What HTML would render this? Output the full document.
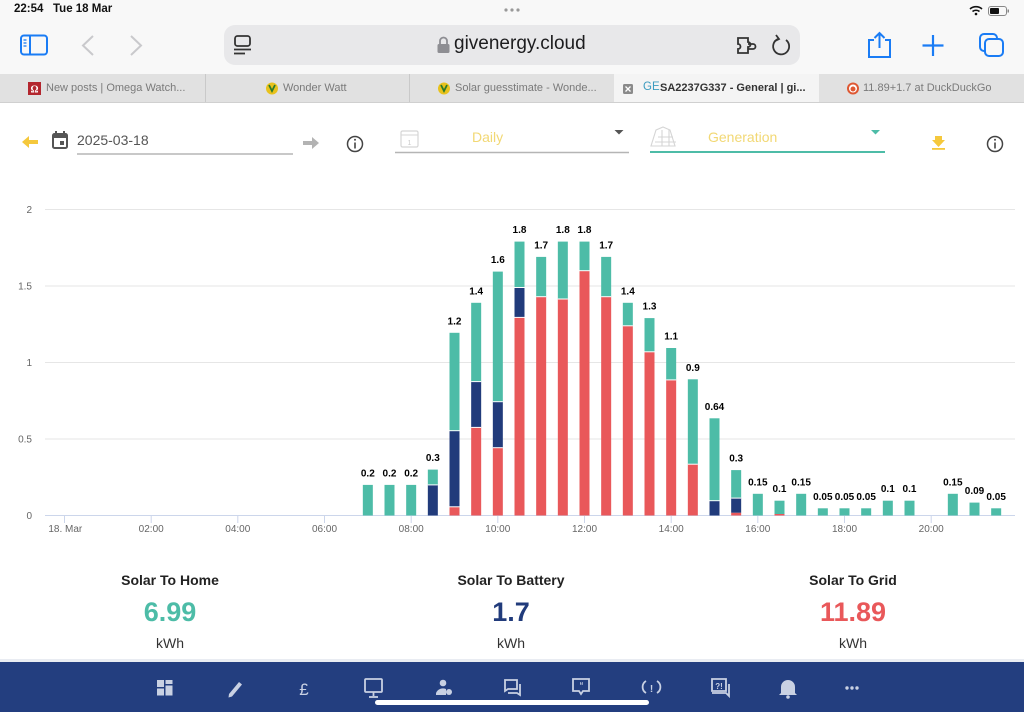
<!DOCTYPE html>
<html><head><meta charset="utf-8">
<style>
html,body{margin:0;padding:0;width:1024px;height:712px;overflow:hidden;background:#fff;font-family:"Liberation Sans",sans-serif;}
.abs{position:absolute;}
</style></head>
<body>
<!-- chrome backgrounds -->
<div class="abs" style="left:0;top:0;width:1024px;height:74px;background:#f8f8f8;"></div>
<div class="abs" style="left:224px;top:25px;width:576px;height:40px;background:#e8e8ea;border-radius:11px;"></div>
<div class="abs" style="left:0;top:74px;width:1024px;height:28px;background:#e1e1e1;border-bottom:1px solid #d0d0d0;"></div>
<div class="abs" style="left:614px;top:74px;width:205px;height:28px;background:#f4f4f4;"></div>
<div class="abs" style="left:205px;top:74px;width:1px;height:28px;background:#c9c9c9;"></div>
<div class="abs" style="left:409px;top:74px;width:1px;height:28px;background:#c9c9c9;"></div>

<!-- status text -->
<div class="abs" style="left:14px;top:3px;font-size:11.5px;font-weight:bold;color:#111;white-space:pre;">22:54   Tue 18 Mar</div>
<div class="abs" style="left:454px;top:33px;font-size:19px;color:#1c1c1e;">givenergy.cloud</div>

<!-- tab texts -->
<div class="abs" style="left:46px;top:82px;font-size:11px;color:#7a7a7a;white-space:nowrap;">New posts | Omega Watch...</div>
<div class="abs" style="left:283px;top:82px;font-size:11px;color:#7a7a7a;white-space:nowrap;">Wonder Watt</div>
<div class="abs" style="left:455px;top:82px;font-size:11px;color:#7a7a7a;white-space:nowrap;">Solar guesstimate - Wonde...</div>
<div class="abs" style="left:643px;top:81px;font-size:11.5px;color:#3b9bbf;white-space:nowrap;">GE</div>
<div class="abs" style="left:660px;top:82px;font-size:11px;font-weight:bold;color:#333;white-space:nowrap;">SA2237G337 - General | gi...</div>
<div class="abs" style="left:863px;top:82px;font-size:11px;color:#7a7a7a;white-space:nowrap;">11.89+1.7 at DuckDuckGo</div>

<!-- controls row texts -->
<div class="abs" style="left:77px;top:132px;font-size:14px;color:#555;">2025-03-18</div>
<div class="abs" style="left:472px;top:129px;font-size:14px;color:#f2d874;">Daily</div>
<div class="abs" style="left:708px;top:129px;font-size:14px;color:#f2d874;">Generation</div>

<!-- stats -->
<div class="abs" style="left:70px;top:572px;width:200px;text-align:center;font-size:14px;font-weight:bold;color:#222;">Solar To Home</div>
<div class="abs" style="left:411px;top:572px;width:200px;text-align:center;font-size:14px;font-weight:bold;color:#222;">Solar To Battery</div>
<div class="abs" style="left:753px;top:572px;width:200px;text-align:center;font-size:14px;font-weight:bold;color:#222;">Solar To Grid</div>
<div class="abs" style="left:70px;top:597px;width:200px;text-align:center;font-size:27px;font-weight:bold;color:#4dbca7;">6.99</div>
<div class="abs" style="left:411px;top:597px;width:200px;text-align:center;font-size:27px;font-weight:bold;color:#213b7b;">1.7</div>
<div class="abs" style="left:753px;top:597px;width:200px;text-align:center;font-size:27px;font-weight:bold;color:#e9585a;">11.89</div>
<div class="abs" style="left:70px;top:635px;width:200px;text-align:center;font-size:14px;color:#333;">kWh</div>
<div class="abs" style="left:411px;top:635px;width:200px;text-align:center;font-size:14px;color:#333;">kWh</div>
<div class="abs" style="left:753px;top:635px;width:200px;text-align:center;font-size:14px;color:#333;">kWh</div>

<!-- bottom nav -->
<div class="abs" style="left:0;top:659px;width:1024px;height:3px;background:#e9ecf2;"></div>
<div class="abs" style="left:0;top:662px;width:1024px;height:50px;background:#233e7f;"></div>

<svg class="abs" style="left:0;top:0;" width="1024" height="712" viewBox="0 0 1024 712" xmlns="http://www.w3.org/2000/svg">
<!-- status dots -->
<circle cx="506" cy="10" r="1.6" fill="#999"/><circle cx="512" cy="10" r="1.6" fill="#999"/><circle cx="518" cy="10" r="1.6" fill="#999"/>
<!-- wifi -->
<path d="M970 9 a9 9 0 0 1 12 0" stroke="#111" stroke-width="1.6" fill="none"/>
<path d="M972.5 11.5 a5.5 5.5 0 0 1 7 0" stroke="#111" stroke-width="1.6" fill="none"/>
<circle cx="976" cy="14" r="1.3" fill="#111"/>
<!-- battery -->
<rect x="988.5" y="6.5" width="18" height="9" rx="2.5" fill="none" stroke="#888" stroke-width="1"/>
<rect x="990" y="8" width="9" height="6" rx="1" fill="#111"/>
<rect x="1007.5" y="9.5" width="1.5" height="3" fill="#888"/>
<!-- sidebar icon -->
<rect x="21" y="35.5" width="26" height="19" rx="3" fill="none" stroke="#1a7cf5" stroke-width="2"/>
<line x1="30" y1="35.5" x2="30" y2="54.5" stroke="#1a7cf5" stroke-width="2"/>
<line x1="23.5" y1="40" x2="26.5" y2="40" stroke="#1a7cf5" stroke-width="1.3"/>
<line x1="23.5" y1="43" x2="26.5" y2="43" stroke="#1a7cf5" stroke-width="1.3"/>
<line x1="23.5" y1="46" x2="26.5" y2="46" stroke="#1a7cf5" stroke-width="1.3"/>
<!-- back/forward -->
<path d="M93 36 L83 45.5 L93 55" stroke="#c9c9cc" stroke-width="2" fill="none"/>
<path d="M131 36 L141 45.5 L131 55" stroke="#c9c9cc" stroke-width="2" fill="none"/>
<!-- reader icon -->
<rect x="235" y="36" width="15" height="10" rx="2.5" fill="none" stroke="#333" stroke-width="1.8"/>
<line x1="234" y1="49.5" x2="251" y2="49.5" stroke="#333" stroke-width="1.8"/>
<line x1="234" y1="53.5" x2="245" y2="53.5" stroke="#333" stroke-width="1.8"/>
<!-- lock -->
<rect x="437.5" y="44" width="12" height="9" rx="1.5" fill="#8e8e93"/>
<path d="M440 44 v-3 a3.5 3.5 0 0 1 7 0 v3" stroke="#8e8e93" stroke-width="1.8" fill="none"/>
<!-- puzzle -->
<path d="M738 38 h10 v4 a2.5 2.5 0 0 1 0 5 v6 h-10 v-4 a2.5 2.5 0 0 0 0 -5 z M748 44 h5 a2.5 2.5 0 0 1 0 5 h-5" stroke="#333" stroke-width="1.8" fill="none"/>
<!-- reload -->
<path d="M786 40 a8 8 0 1 1 -8 -1" stroke="#333" stroke-width="1.8" fill="none"/>
<path d="M776 35 l3 4 l-4 2" stroke="#333" stroke-width="1.8" fill="none"/>
<!-- share -->
<path d="M874 40 h-5 v17 h21 v-17 h-5" stroke="#1a7cf5" stroke-width="2" fill="none"/>
<line x1="879.5" y1="33" x2="879.5" y2="48" stroke="#1a7cf5" stroke-width="2"/>
<path d="M874.5 38 l5 -5 l5 5" stroke="#1a7cf5" stroke-width="2" fill="none"/>
<!-- plus -->
<line x1="933" y1="35" x2="933" y2="56" stroke="#1a7cf5" stroke-width="2.2"/>
<line x1="922.5" y1="45.5" x2="943.5" y2="45.5" stroke="#1a7cf5" stroke-width="2.2"/>
<!-- tabs -->
<rect x="980" y="34" width="17" height="17" rx="4" fill="none" stroke="#1a7cf5" stroke-width="2"/>
<rect x="985" y="39" width="18" height="17" rx="4" fill="#f8f8f8" stroke="#1a7cf5" stroke-width="2"/>
<!-- tab favicons -->
<rect x="28" y="82" width="13" height="13" fill="#b3262e"/>
<text x="34.5" y="92.5" font-size="10" font-weight="bold" fill="#fff" text-anchor="middle" font-family="Liberation Serif, serif">Ω</text>
<circle cx="272" cy="88.5" r="6" fill="#e8c21c"/><path d="M269 85 l3 6 l3 -6" stroke="#2b7a2b" stroke-width="1.8" fill="none"/>
<circle cx="444" cy="88.5" r="6" fill="#e8c21c"/><path d="M441 85 l3 6 l3 -6" stroke="#2b7a2b" stroke-width="1.8" fill="none"/>
<rect x="623" y="84" width="10" height="10" rx="1.5" fill="#8a8a8a"/>
<path d="M625.5 86.5 l5 5 M630.5 86.5 l-5 5" stroke="#fff" stroke-width="1.3"/>
<circle cx="853" cy="88.5" r="6" fill="#de5833"/><circle cx="853" cy="88.5" r="4" fill="#fff"/><circle cx="853" cy="89" r="2.5" fill="#de5833"/>

<!-- controls row icons -->
<path d="M22 142 l7 -6 v4 h9 v4 h-9 v4 z" fill="#f5c83c"/>
<rect x="53" y="134" width="14" height="14" rx="1.5" fill="none" stroke="#555" stroke-width="2"/>
<rect x="53" y="134" width="14" height="4" fill="#555"/>
<line x1="56" y1="131" x2="56" y2="135" stroke="#555" stroke-width="2"/>
<line x1="64" y1="131" x2="64" y2="135" stroke="#555" stroke-width="2"/>
<rect x="60" y="141" width="4" height="4" fill="#555"/>
<line x1="77" y1="154" x2="293" y2="154" stroke="#b5b5b5" stroke-width="1.5"/>
<path d="M319 143 l-7 -6 v4 h-9 v4 h9 v4 z" fill="#b3b3b3"/>
<circle cx="355" cy="144" r="7.5" fill="none" stroke="#444" stroke-width="1.5"/>
<line x1="355" y1="142.5" x2="355" y2="148.5" stroke="#444" stroke-width="1.6"/>
<circle cx="355" cy="139.8" r="1" fill="#444"/>
<rect x="401" y="131" width="17" height="16" rx="1.5" fill="none" stroke="#d5d5d5" stroke-width="1.2"/>
<line x1="401" y1="135" x2="418" y2="135" stroke="#d5d5d5" stroke-width="1"/>
<text x="409.5" y="145" font-size="7" fill="#ccc" text-anchor="middle">1</text>
<line x1="395" y1="152.5" x2="629" y2="152.5" stroke="#b5b5b5" stroke-width="1.5"/>
<path d="M614.5 130 h9 l-4.5 4.5 z" fill="#555"/>
<path d="M656 130 l7 -3 l7 3 l5 16 h-24 z M658 137 h15 M655 142 h21 M662 130 v16 M669 130 v16" stroke="#d5d5d5" stroke-width="1.1" fill="none"/>
<line x1="650" y1="152" x2="885" y2="152" stroke="#4dbca7" stroke-width="2"/>
<path d="M871 130 h9 l-4.5 4.5 z" fill="#4dbca7"/>
<path d="M935 136 h7 v4 h3 l-6.5 7 l-6.5 -7 h3 z" fill="#f5c83c"/>
<rect x="932" y="148" width="13" height="1.8" fill="#f5c83c"/>
<circle cx="995" cy="144" r="7.5" fill="none" stroke="#444" stroke-width="1.5"/>
<line x1="995" y1="142.5" x2="995" y2="148.5" stroke="#444" stroke-width="1.6"/>
<circle cx="995" cy="139.8" r="1" fill="#444"/>

<!-- chart grid -->
<g stroke="#e6e6e6" stroke-width="1">
<line x1="45" y1="209.5" x2="1015" y2="209.5"/>
<line x1="45" y1="286" x2="1015" y2="286"/>
<line x1="45" y1="362.5" x2="1015" y2="362.5"/>
<line x1="45" y1="439" x2="1015" y2="439"/>
</g>
<line x1="45" y1="515.5" x2="1015" y2="515.5" stroke="#ccd6eb" stroke-width="1"/>
<g stroke="#ccd6eb" stroke-width="1">
<line x1="64.5" y1="515.5" x2="64.5" y2="523"/>
<line x1="151.2" y1="515.5" x2="151.2" y2="523"/>
<line x1="237.8" y1="515.5" x2="237.8" y2="523"/>
<line x1="324.5" y1="515.5" x2="324.5" y2="523"/>
<line x1="411.2" y1="515.5" x2="411.2" y2="523"/>
<line x1="497.8" y1="515.5" x2="497.8" y2="523"/>
<line x1="584.5" y1="515.5" x2="584.5" y2="523"/>
<line x1="671.2" y1="515.5" x2="671.2" y2="523"/>
<line x1="757.8" y1="515.5" x2="757.8" y2="523"/>
<line x1="844.5" y1="515.5" x2="844.5" y2="523"/>
<line x1="931.2" y1="515.5" x2="931.2" y2="523"/>
</g>
<g font-family="Liberation Sans, sans-serif" font-size="10" fill="#666" text-anchor="end">
<text x="32" y="213">2</text>
<text x="32" y="289.5">1.5</text>
<text x="32" y="366">1</text>
<text x="32" y="442.5">0.5</text>
<text x="32" y="519">0</text>
</g>
<g font-family="Liberation Sans, sans-serif" font-size="10" fill="#666" text-anchor="middle">
<text x="65.3" y="532">18. Mar</text>
<text x="151.2" y="532">02:00</text>
<text x="237.8" y="532">04:00</text>
<text x="324.5" y="532">06:00</text>
<text x="411.2" y="532">08:00</text>
<text x="497.8" y="532">10:00</text>
<text x="584.5" y="532">12:00</text>
<text x="671.2" y="532">14:00</text>
<text x="757.8" y="532">16:00</text>
<text x="844.5" y="532">18:00</text>
<text x="931.2" y="532">20:00</text>
</g>

<!-- bars: red -->
<g fill="#e9585a">
<rect x="449.5" y="506.8" width="10" height="8.7"/>
<rect x="471.17" y="427.4" width="10" height="88.1"/>
<rect x="492.83" y="447.7" width="10" height="67.8"/>
<rect x="514.5" y="317.4" width="10" height="198.1"/>
<rect x="536.17" y="296.7" width="10" height="218.8"/>
<rect x="557.83" y="299.0" width="10" height="216.5"/>
<rect x="579.5" y="270.7" width="10" height="244.8"/>
<rect x="601.17" y="296.7" width="10" height="218.8"/>
<rect x="622.83" y="325.8" width="10" height="189.7"/>
<rect x="644.5" y="351.8" width="10" height="163.7"/>
<rect x="666.17" y="379.9" width="10" height="135.6"/>
<rect x="687.83" y="464.2" width="10" height="51.3"/>
<rect x="731.17" y="512.7" width="10" height="2.8"/>
<rect x="774.5" y="514" width="10" height="1.5"/>
</g>
<!-- navy -->
<g fill="#213b7b">
<rect x="427.83" y="484.9" width="10" height="30.6"/>
<rect x="449.5" y="430.7" width="10" height="76.1"/>
<rect x="471.17" y="381.6" width="10" height="45.8"/>
<rect x="492.83" y="401.7" width="10" height="46.0"/>
<rect x="514.5" y="287.5" width="10" height="29.9"/>
<rect x="709.5" y="500.7" width="10" height="14.8"/>
<rect x="731.17" y="498.1" width="10" height="14.6"/>
</g>
<!-- teal -->
<g fill="#4dbca7">
<rect x="362.83" y="484.9" width="10" height="30.6"/>
<rect x="384.5" y="484.9" width="10" height="30.6"/>
<rect x="406.17" y="484.9" width="10" height="30.6"/>
<rect x="427.83" y="469.6" width="10" height="15.3"/>
<rect x="449.5" y="332.8" width="10" height="97.9"/>
<rect x="471.17" y="302.8" width="10" height="78.8"/>
<rect x="492.83" y="271.6" width="10" height="130.1"/>
<rect x="514.5" y="241.6" width="10" height="45.9"/>
<rect x="536.17" y="256.9" width="10" height="39.8"/>
<rect x="557.83" y="241.6" width="10" height="57.4"/>
<rect x="579.5" y="241.6" width="10" height="29.1"/>
<rect x="601.17" y="256.9" width="10" height="39.8"/>
<rect x="622.83" y="302.8" width="10" height="23.0"/>
<rect x="644.5" y="318.1" width="10" height="33.7"/>
<rect x="666.17" y="348.0" width="10" height="31.9"/>
<rect x="687.83" y="379.3" width="10" height="84.9"/>
<rect x="709.5" y="418.3" width="10" height="82.4"/>
<rect x="731.17" y="470.1" width="10" height="28.0"/>
<rect x="752.83" y="493.8" width="10" height="21.7"/>
<rect x="774.5" y="500.7" width="10" height="13.3"/>
<rect x="796.17" y="493.8" width="10" height="21.7"/>
<rect x="817.83" y="508.3" width="10" height="7.2"/>
<rect x="839.5" y="508.3" width="10" height="7.2"/>
<rect x="861.17" y="508.3" width="10" height="7.2"/>
<rect x="882.83" y="500.7" width="10" height="14.8"/>
<rect x="904.5" y="500.7" width="10" height="14.8"/>
<rect x="947.83" y="493.8" width="10" height="21.7"/>
<rect x="969.5" y="502.6" width="10" height="12.9"/>
<rect x="991.17" y="508.3" width="10" height="7.2"/>
</g>
<!-- segment separators -->
<g stroke="#fff" stroke-width="1">
<line x1="427.83" y1="484.9" x2="437.83" y2="484.9"/>
<line x1="449.5" y1="506.8" x2="459.5" y2="506.8"/>
<line x1="449.5" y1="430.7" x2="459.5" y2="430.7"/>
<line x1="471.17" y1="427.4" x2="481.17" y2="427.4"/>
<line x1="471.17" y1="381.6" x2="481.17" y2="381.6"/>
<line x1="492.83" y1="447.7" x2="502.83" y2="447.7"/>
<line x1="492.83" y1="401.7" x2="502.83" y2="401.7"/>
<line x1="514.5" y1="317.4" x2="524.5" y2="317.4"/>
<line x1="514.5" y1="287.5" x2="524.5" y2="287.5"/>
<line x1="536.17" y1="296.7" x2="546.17" y2="296.7"/>
<line x1="557.83" y1="299.0" x2="567.83" y2="299.0"/>
<line x1="579.5" y1="270.7" x2="589.5" y2="270.7"/>
<line x1="601.17" y1="296.7" x2="611.17" y2="296.7"/>
<line x1="622.83" y1="325.8" x2="632.83" y2="325.8"/>
<line x1="644.5" y1="351.8" x2="654.5" y2="351.8"/>
<line x1="666.17" y1="379.9" x2="676.17" y2="379.9"/>
<line x1="687.83" y1="464.2" x2="697.83" y2="464.2"/>
<line x1="709.5" y1="500.7" x2="719.5" y2="500.7"/>
<line x1="731.17" y1="498.1" x2="741.17" y2="498.1"/>
</g>
<!-- data labels -->
<g font-family="Liberation Sans, sans-serif" font-size="10" font-weight="bold" fill="#000" text-anchor="middle">
<text x="367.83" y="476.4">0.2</text>
<text x="389.5" y="476.4">0.2</text>
<text x="411.17" y="476.4">0.2</text>
<text x="432.83" y="461.1">0.3</text>
<text x="454.5" y="324.3">1.2</text>
<text x="476.17" y="294.3">1.4</text>
<text x="497.83" y="263.1">1.6</text>
<text x="519.5" y="233.1">1.8</text>
<text x="541.17" y="248.4">1.7</text>
<text x="562.83" y="233.1">1.8</text>
<text x="584.5" y="233.1">1.8</text>
<text x="606.17" y="248.4">1.7</text>
<text x="627.83" y="294.3">1.4</text>
<text x="649.5" y="309.6">1.3</text>
<text x="671.17" y="339.5">1.1</text>
<text x="692.83" y="370.8">0.9</text>
<text x="714.5" y="409.8">0.64</text>
<text x="736.17" y="461.6">0.3</text>
<text x="757.83" y="485.3">0.15</text>
<text x="779.5" y="492.2">0.1</text>
<text x="801.17" y="485.3">0.15</text>
<text x="822.83" y="499.8">0.05</text>
<text x="844.5" y="499.8">0.05</text>
<text x="866.17" y="499.8">0.05</text>
<text x="887.83" y="492.2">0.1</text>
<text x="909.5" y="492.2">0.1</text>
<text x="952.83" y="485.3">0.15</text>
<text x="974.5" y="494.1">0.09</text>
<text x="996.17" y="499.8">0.05</text>
</g>

<!-- bottom nav icons -->
<g fill="#c9d1e3" stroke="none">
<rect x="157" y="680" width="7" height="7"/><rect x="157" y="688.5" width="7" height="7"/>
<rect x="165.5" y="680" width="7" height="4"/><rect x="165.5" y="685.5" width="7" height="10"/>
<path d="M229 694 l10 -12 l3 2.5 l-10 12 l-3.5 1 z"/>
<circle cx="443" cy="683" r="3.3"/><path d="M436 695 a7 6 0 0 1 10 -6 v6 z"/>
<circle cx="449" cy="692" r="3"/>
<path d="M781 693 v-6 a7 7 0 0 1 14 0 v6 l2 2 h-18 z"/><circle cx="788" cy="697" r="1.8"/>
<circle cx="847" cy="688" r="1.7"/><circle cx="852" cy="688" r="1.7"/><circle cx="857" cy="688" r="1.7"/>
</g>
<g fill="none" stroke="#c9d1e3" stroke-width="1.8">
<rect x="365" y="679" width="17" height="13" rx="1"/>
<line x1="373.5" y1="692" x2="373.5" y2="696"/><line x1="369" y1="697" x2="378" y2="697"/>
<path d="M505 680 h12 v9 h-9 l-3 2 z"/><path d="M520 684 v11 l-3 -2 h-9"/>
<path d="M573 679 h16 v12 h-6 l-2 3 l-2 -3 h-6 z"/>
<path d="M646 681 a7 7 0 0 0 0 12 M657 693 a7 7 0 0 0 0 -12"/>
<path d="M712 679 h14 v12 h-14 z"/><path d="M729 684 v12 l-3 -3 h-14"/>
</g>
<g font-family="Liberation Sans, sans-serif" fill="#c9d1e3" text-anchor="middle">
<text x="304" y="695" font-size="17">£</text>
<text x="581.5" y="688" font-size="8" font-weight="bold">“</text>
<text x="651.5" y="692" font-size="10" font-weight="bold">!</text>
<text x="719" y="689" font-size="8" font-weight="bold">?!</text>
</g>
<rect x="375" y="700" width="274" height="5" rx="2.5" fill="#fff"/>
</svg>
</body></html>
